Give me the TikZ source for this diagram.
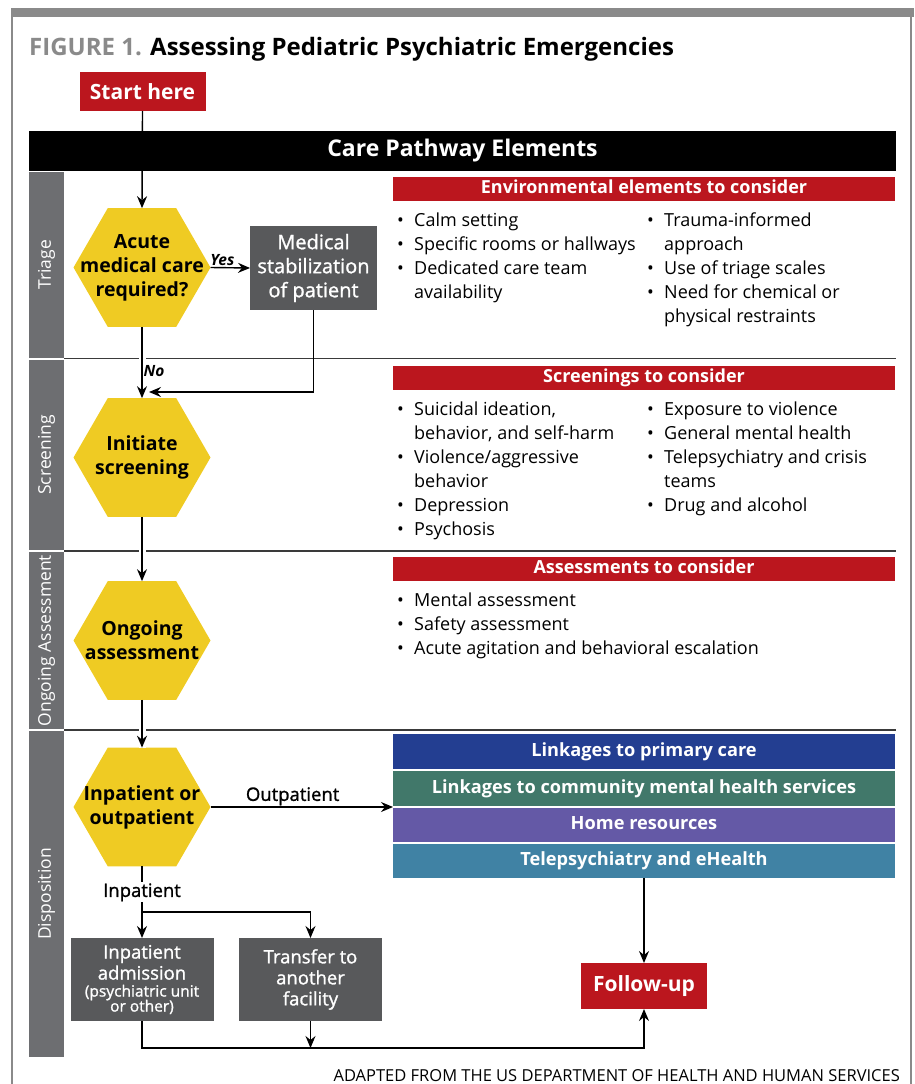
\documentclass[tikz,border=0pt]{standalone}
\usepackage{fontspec}
\setmainfont{Open Sans}
\newfontfamily\medfont[FakeBold=1.2]{Open Sans}
\usetikzlibrary{positioning,shapes.geometric,arrows.meta}

\definecolor{pathred}{HTML}{BB161E}
\definecolor{hexyellow}{HTML}{EFCB23}
\definecolor{boxgray}{HTML}{58595B}
\definecolor{lanegray}{HTML}{6D6E71}
\definecolor{framegray}{HTML}{8A8A8A}
\definecolor{sepgray}{HTML}{3A3A3A}
\definecolor{linkblue}{HTML}{233E91}
\definecolor{linkgreen}{HTML}{41786A}
\definecolor{linkpurple}{HTML}{6459A6}
\definecolor{linkteal}{HTML}{4082A4}

\newcommand{\fsize}[2]{\fontsize{#1}{#2}\selectfont}
\newcommand{\bl}{\makebox[17pt][l]{\textbullet}}

\begin{document}
\begin{tikzpicture}[
    x=1pt, y=-1pt,
    >={Stealth[length=12pt,width=10pt,inset=4pt]},
    hexa/.style={regular polygon, regular polygon sides=6, fill=hexyellow,
      minimum size=137pt, inner sep=0pt, outer sep=0pt},
    hexlabel/.style={font=\fsize{19.5}{24}\bfseries, align=center},
    darkbox/.style={fill=boxgray, text=white, align=center, inner sep=0pt, outer sep=0pt},
    redbox/.style={fill=pathred, text=white, font=\fsize{21}{24}\bfseries,
      inner sep=0pt, outer sep=0pt},
    headbar/.style={fill=pathred, minimum width=502pt, minimum height=24pt, inner sep=0pt,
      text=white, font=\fsize{18}{20}\bfseries, text height=12.5pt, text depth=3.5pt},
    bar/.style={minimum width=502pt, minimum height=34.5pt, inner sep=0pt, outer sep=0pt,
      text=white, font=\fsize{18.2}{20}\bfseries, text height=13pt, text depth=4pt},
    lane/.style={rotate=90, fill=lanegray, text=white, minimum height=35pt,
      inner sep=0pt, font=\fsize{17.5}{20}},
    itemlist/.style={anchor=base west, inner sep=0pt, font=\fsize{18}{24}},
    flowlabel/.style={font=\fsize{18.5}{20}\medfont, inner sep=1pt},
    answer/.style={font=\fsize{15.5}{16}\bfseries\itshape, inner sep=1pt},
    plain edge/.style={draw, line width=1.4pt, -},
    arrow edge/.style={draw, line width=1.4pt, ->},
    halo/.style={preaction={draw=white, line width=7pt, -}},
  ]
  \useasboundingbox (0,0) rectangle (914,1084);

  % frame and title
  \fill[framegray] (11,8) rectangle (914,17);
  \draw[framegray, line width=2pt] (12,17) -- (12,1084) (911,17) -- (911,1084);
  \node[anchor=base west, inner sep=0pt, font=\fsize{24}{26}\bfseries] (title) at (29,55)
    {\textcolor{framegray}{FIGURE 1.} Assessing Pediatric Psychiatric Emergencies};

  \node[redbox, minimum width=126pt, minimum height=39pt] (start) at (142.5,91.5) {Start here};
  \node[fill=black, text=white, minimum width=867pt, minimum height=40pt, inner sep=0pt,
    font=\fsize{23}{24}\bfseries] (carebar) at (462.5,151) {Care Pathway Elements};

  % lanes
  \foreach \c/\len/\name/\txt in {264.75/185.5/triage/Triage, 454.75/190.5/screening/Screening,
      640.5/177/assessment/Ongoing Assessment, 894/326/disposition/Disposition}
    \node[lane, minimum width=\len pt] (\name) at (46.5,\c) {\txt};
  \foreach \y in {358.5,551,730}
    \draw[sepgray, line width=1.5pt] (64,\y) -- (896,\y);

  % right column
  \node[headbar] (envhead) at (644,188.5) {Environmental elements to consider};
  \node[itemlist] (envleft) at (397,226) {\begin{tabular}[t]{@{}l@{}l@{}}
    \bl & Calm setting\\ \bl & Specific rooms or hallways\\
    \bl & Dedicated care team\\ & availability\end{tabular}};
  \node[itemlist] (envright) at (647,226) {\begin{tabular}[t]{@{}l@{}l@{}}
    \bl & Trauma-informed\\ & approach\\ \bl & Use of triage scales\\
    \bl & Need for chemical or\\ & physical restraints\end{tabular}};

  \node[headbar] (screenhead) at (644,377.5) {Screenings to consider};
  \node[itemlist] (screenleft) at (397,415) {\begin{tabular}[t]{@{}l@{}l@{}}
    \bl & Suicidal ideation,\\ & behavior, and self-harm\\ \bl & Violence/aggressive\\
    & behavior\\ \bl & Depression\\ \bl & Psychosis\end{tabular}};
  \node[itemlist] (screenright) at (647,415) {\begin{tabular}[t]{@{}l@{}l@{}}
    \bl & Exposure to violence\\ \bl & General mental health\\
    \bl & Telepsychiatry and crisis\\ & teams\\ \bl & Drug and alcohol\end{tabular}};

  \node[headbar] (assesshead) at (644,569) {Assessments to consider};
  \node[itemlist] (assesslist) at (397,606) {\begin{tabular}[t]{@{}l@{}l@{}}
    \bl & Mental assessment\\ \bl & Safety assessment\\
    \bl & Acute agitation and behavioral escalation\end{tabular}};

  \foreach \name/\col/\y/\txt in {primary/linkblue/751.5/Linkages to primary care,
      community/linkgreen/788.5/Linkages to community mental health services,
      home/linkpurple/825/Home resources, tele/linkteal/861/Telepsychiatry and eHealth}
    \node[bar, fill=\col] (\name) at (644,\y) {\txt};

  % flow
  \foreach \name/\y/\txt in {acute/267.5/{Acute\\medical care\\required?},
      screen/457.5/{Initiate\\screening}, ongoing/640.5/{Ongoing\\assessment},
      dispo/807/{Inpatient or\\outpatient}} {
    \node[hexa] (\name) at (142,\y) {};
    \node[hexlabel] (\name text) at (\name) {\txt};
  }
  \node[darkbox, minimum width=127pt, minimum height=84pt, font=\fsize{20}{24}\medfont]
    (stab) at (313.5,268) {Medical\\stabilization\\of patient};
  \node[darkbox, minimum width=143pt, minimum height=83pt, font=\fsize{18.5}{21}\medfont]
    (admit) at (142,979.5) {Inpatient\\admission\\[-4pt]{\fsize{15.5}{15}\medfont(psychiatric unit}\\[-6pt]{\fsize{15.5}{15}\medfont or other)}};
  \node[darkbox, minimum width=143pt, minimum height=83pt, font=\fsize{18.5}{21}\medfont]
    (transfer) at (310.5,979.5) {Transfer to\\another\\facility};
  \node[redbox, minimum width=126pt, minimum height=46pt] (follow) at (644,986) {Follow-up};

  \coordinate (merge) at (149,392);
  \coordinate (split) at (142,912);
  \coordinate (bottom) at (142,1048);

  \draw[arrow edge] (start.south) -- (acute.north);
  \draw[arrow edge] (acute.east) -- node[answer, above, pos=0.3] (yes) {Yes} (stab.west);
  \draw[arrow edge, halo] (acute.south) -- node[answer, right, pos=0.62] (no) {No} (screen.north);
  \draw[arrow edge] (stab.south) |- (merge);
  \draw[arrow edge, halo] (screen.south) -- (ongoing.north);
  \draw[arrow edge, halo] (ongoing.south) -- (dispo.north);
  \draw[arrow edge] (dispo.east) -- node[flowlabel, above, pos=0.45] (outlabel) {Outpatient}
    (dispo.east -| community.west);
  \draw[plain edge] (dispo.south) -- node[flowlabel, fill=white, pos=0.57] (inlabel) {Inpatient} (split);
  \draw[arrow edge] (split) -- (admit.north);
  \draw[arrow edge] (split) -| (transfer.north);
  \draw[arrow edge] (admit.south) -- (bottom) -| (follow.south);
  \draw[arrow edge] (transfer.south) -- (transfer.south |- bottom);
  \draw[arrow edge] (tele.south) -- (follow.north);

  \node[anchor=base east, inner sep=0pt, font=\fsize{16.5}{18}] (source) at (900,1081)
    {ADAPTED FROM THE US DEPARTMENT OF HEALTH AND HUMAN SERVICES};
\end{tikzpicture}
\end{document}
